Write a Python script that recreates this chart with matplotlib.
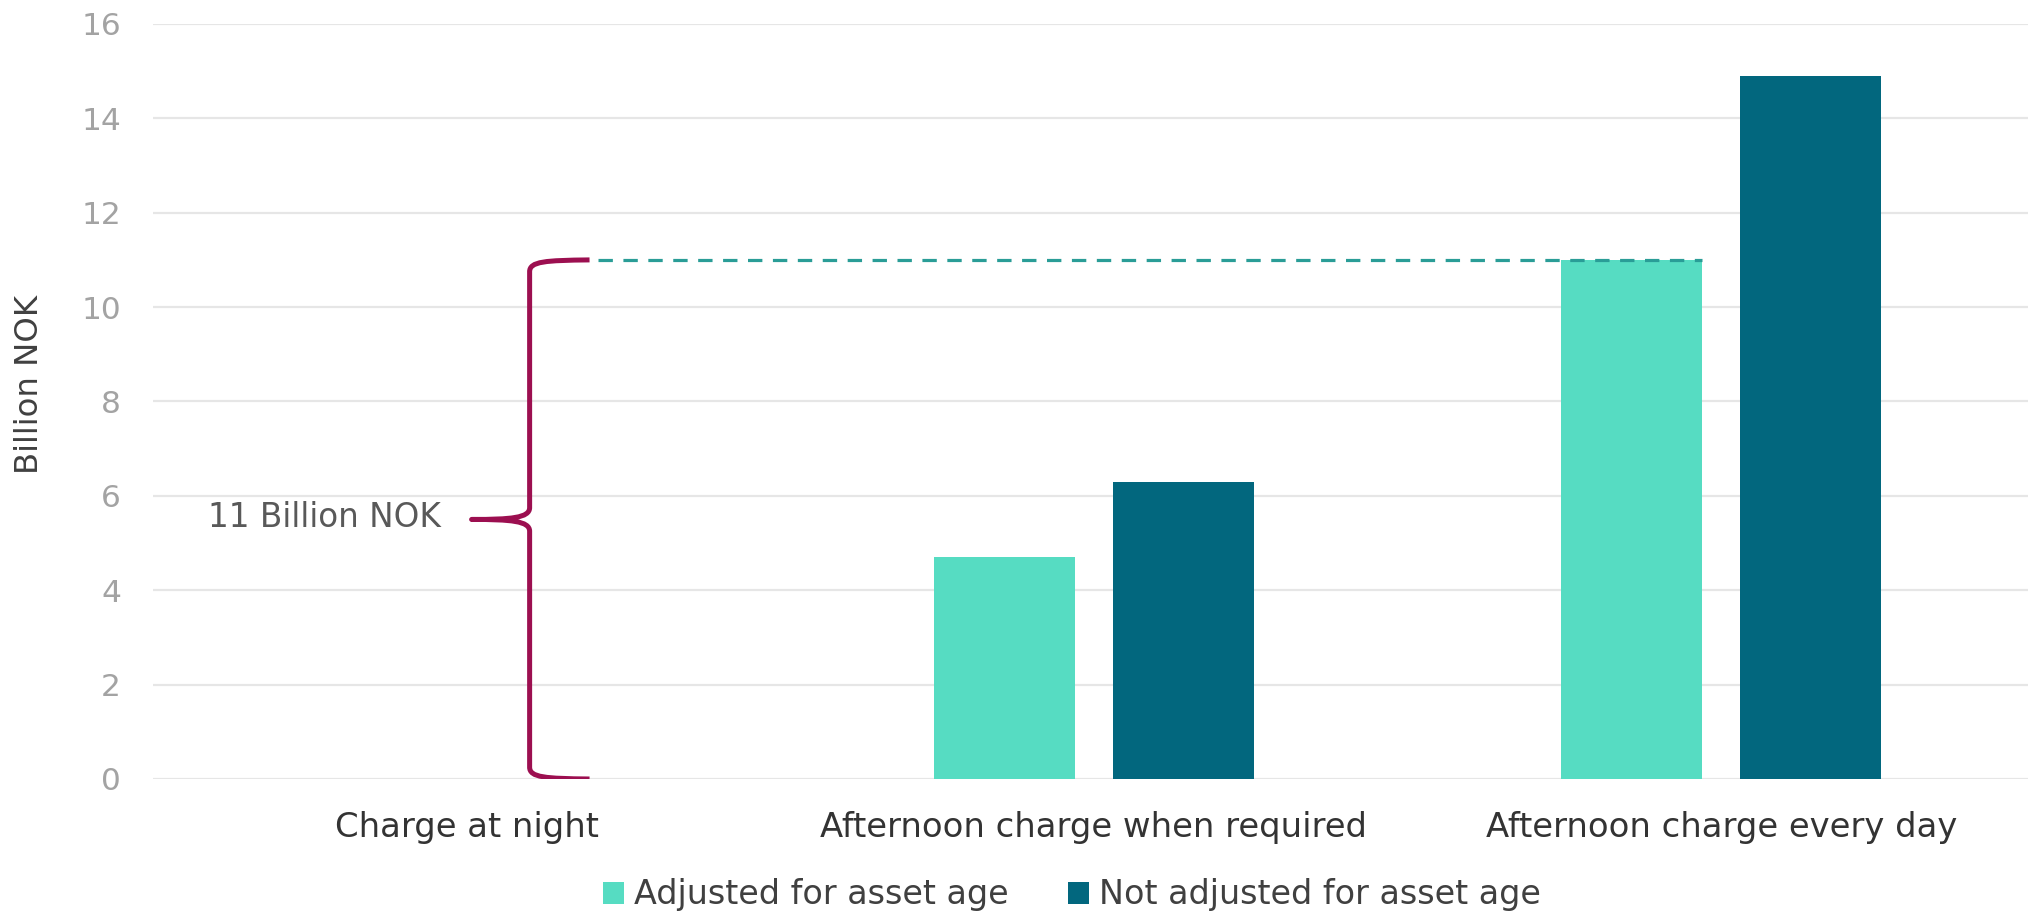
import matplotlib.pyplot as plt
import numpy as np
from matplotlib.path import Path
from matplotlib.patches import PathPatch, Patch

# cost of each charging strategy, billion NOK
categories = ['Charge at night', 'Afternoon charge when required', 'Afternoon charge every day']
adjusted = [0, 4.7, 11.0]
not_adjusted = [0, 6.3, 14.9]
series_names = ['Adjusted for asset age', 'Not adjusted for asset age']
brace_value = 11.0
brace_label = '11 Billion NOK'

light = '#56dcc2'
dark = '#02677e'
brace_col = '#9c0f50'

fig = plt.figure(figsize=(20.28, 9.11), dpi=100)
ax = fig.add_axes([0.0754, 0.1449, 0.928, 0.8288])

x = np.arange(len(categories))
w = 0.225
off = 0.1425
ax.bar(x - off, adjusted, w, color=light, linewidth=0, zorder=2)
ax.bar(x + off, not_adjusted, w, color=dark, linewidth=0, zorder=2)

ax.set_xlim(-0.5, 2.5)
ax.set_ylim(0, 16)
ax.set_yticks(np.arange(0, 17, 2))
ax.yaxis.grid(True, color='#e6e6e6', linewidth=1.6)
ax.set_axisbelow(True)
for s in ax.spines.values():
    s.set_visible(False)

ax.set_xticks(x)
ax.set_xticklabels(categories, fontsize=24.4, color='#333333', family='DejaVu Sans')
ax.tick_params(axis='x', length=0, pad=23)
ax.tick_params(axis='y', length=0, pad=23, labelsize=22.5, labelcolor='#a3a3a3')

ax.set_ylabel('Billion NOK', fontsize=23.3, color='#404040')
ax.yaxis.label.set_va('center')
ax.yaxis.set_label_coords(-0.0654, 0.522)

# dashed guide from the brace top to the matching bar
x_end = x[2] - off + w / 2
ax.plot([0.21, x_end], [brace_value, brace_value], color='#2a9d97',
        linewidth=2.3, linestyle=(0, (4.5, 3.3)), dash_capstyle='butt', zorder=3)

# curly brace spanning 0..11
vx, ex, tx = 0.1005, 0.196, 0.008
mid = brace_value / 2
verts = [
    (ex, brace_value),
    (ex - 0.07, brace_value - 0.01), (vx, brace_value - 0.03), (vx, brace_value - 0.25),
    (vx, mid + 0.25),
    (vx, mid + 0.03), (vx - 0.03, mid), (tx, mid),
    (vx - 0.03, mid), (vx, mid - 0.03), (vx, mid - 0.25),
    (vx, 0.25),
    (vx, 0.03), (ex - 0.07, 0.01), (ex, 0),
]
codes = [Path.MOVETO,
         Path.CURVE4, Path.CURVE4, Path.CURVE4,
         Path.LINETO,
         Path.CURVE4, Path.CURVE4, Path.CURVE4,
         Path.CURVE4, Path.CURVE4, Path.CURVE4,
         Path.LINETO,
         Path.CURVE4, Path.CURVE4, Path.CURVE4]
ax.add_patch(PathPatch(Path(verts, codes), facecolor='none', edgecolor=brace_col,
                       linewidth=3.6, capstyle='butt', joinstyle='round', zorder=4))
ax.text(-0.0415, 5.55, brace_label, ha='right', va='center', fontsize=23.5,
        color='#595959')

handles = [Patch(facecolor=light, linewidth=0), Patch(facecolor=dark, linewidth=0)]
fig.legend(handles, series_names, loc='center', bbox_to_anchor=(0.5284, 0.0176),
           ncol=2, frameon=False, fontsize=24, labelcolor='#404040',
           handlelength=0.63, handleheight=0.63, handletextpad=0.3,
           columnspacing=1.78, borderpad=0)

fig.savefig('out.png', dpi=100)
